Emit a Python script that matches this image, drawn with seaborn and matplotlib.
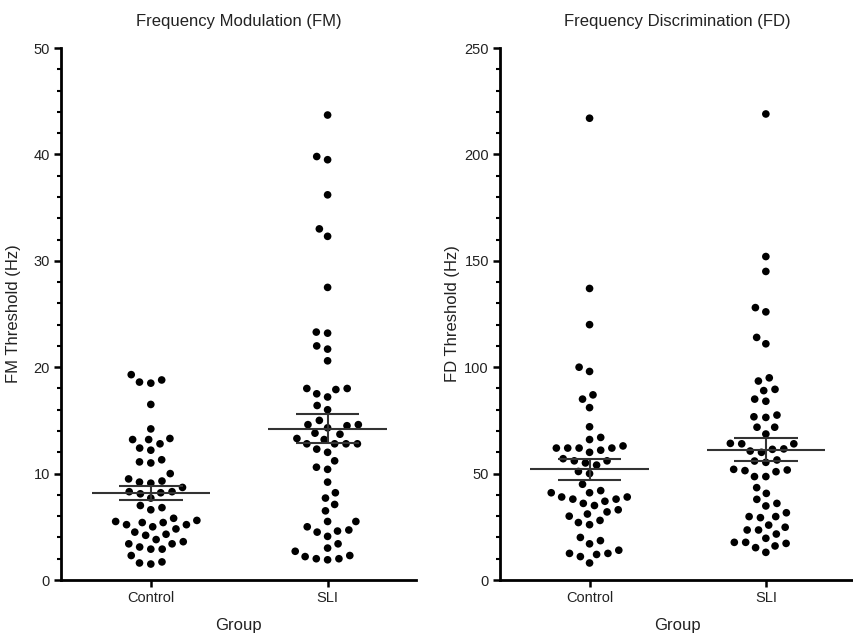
import numpy as np
import pandas as pd
import matplotlib
matplotlib.use("Agg")
import matplotlib.pyplot as plt
from matplotlib.ticker import MultipleLocator
import seaborn as sns

# 数据
groups = ["Control", "SLI"]

fm_control = [19.3, 18.6, 18.5, 18.8, 16.5, 14.2,
              13.2, 12.8, 13.3, 13.2, 12.2, 12.4, 11.1, 11.0, 11.3, 10.0,
              9.3, 9.1, 9.2, 9.5, 8.7, 8.3, 8.1, 7.7, 8.2, 8.3,
              7.0, 6.6, 6.8,
              5.6, 5.5, 5.4, 5.4, 5.8, 5.2, 5.0, 4.5, 4.2, 4.3, 4.8, 5.2,
              3.6, 3.4, 2.9, 2.9, 3.1, 3.4, 3.8, 2.3, 1.7, 1.5, 1.6]
fm_sli = [43.7, 39.5, 39.8, 36.2, 32.3, 33.0, 27.5,
          23.2, 23.3, 22.0, 21.7, 20.6,
          18.0, 17.5, 17.2, 17.9, 18.0, 16.4, 16.0, 15.0,
          14.3, 14.6, 14.5, 14.6, 13.7, 13.8, 13.2, 13.3,
          12.8, 12.8, 12.8, 12.8, 12.3, 12.0, 11.2, 10.4, 10.6,
          9.2, 8.2, 7.7, 7.1, 6.5, 5.5, 5.5,
          5.0, 4.6, 4.1, 4.5, 4.7, 3.4, 3.0,
          2.3, 2.0, 1.9, 2.0, 2.2, 2.7]
fd_control = [217, 137, 120, 100, 98, 87, 85, 81, 72, 67, 66,
              62, 61, 63, 62, 60, 62, 62, 57, 56, 56, 54, 55, 50, 51, 45,
              41, 39, 37, 38, 35, 38, 39, 41, 42, 36,
              30, 27, 32, 26, 33, 28, 31, 17, 20, 18.5,
              12.5, 12, 14, 11, 12.5, 8]
fd_sli = [219, 152, 145, 128, 126, 111, 114, 93.5, 95, 89, 89.6, 85, 84,
          77.5, 76.7, 76.4, 71.8, 71.8, 68.6,
          64, 61.6, 60, 60.6, 61.4, 64, 64.2, 56.4, 55.3, 55.9,
          51.7, 50.9, 48.6, 48.6, 51.4, 52, 43.4, 40.7, 37.9, 34.8, 36,
          29.8, 29.3, 31.6, 29.8, 23.5, 21.6, 24.8, 25.8, 23.5,
          17.7, 16, 13, 15.2, 19.6, 17.2, 17.7]

sns.set_style("ticks")
plt.rcParams['font.family'] = ['Liberation Sans', 'DejaVu Sans']

TEXT = "#222222"
LINE = "#333333"


def make_df(control, sli):
    return pd.DataFrame({
        "group": ["Control"] * len(control) + ["SLI"] * len(sli),
        "value": list(control) + list(sli),
    })


def draw_panel(ax, df, title, ylabel, ymax, major, minor, ylabelpad):
    # 点大小小于间距：用透明边框增加蜂群间隔
    sns.swarmplot(data=df, x="group", y="value", order=groups, ax=ax,
                  color="black", size=5.5, edgecolor="none", linewidth=2.3)

    # 均值 ± 标准误
    for i, g in enumerate(groups):
        vals = df.loc[df["group"] == g, "value"].to_numpy()
        m = vals.mean()
        se = vals.std(ddof=1) / np.sqrt(len(vals))
        ax.hlines(m, i - 0.335, i + 0.335, color=LINE, lw=1.5, zorder=5)
        ax.hlines([m - se, m + se], i - 0.18, i + 0.18, color=LINE, lw=1.5, zorder=5)
        ax.vlines(i, m - se, m + se, color=LINE, lw=1.5, zorder=5)

    ax.set_xlim(-0.508, 1.5)
    ax.set_ylim(0, ymax)
    ax.yaxis.set_major_locator(MultipleLocator(major))
    ax.yaxis.set_minor_locator(MultipleLocator(minor))
    sns.despine(ax=ax)
    for s in ("left", "bottom"):
        ax.spines[s].set_linewidth(2.0)
        ax.spines[s].set_color("black")
    ax.tick_params(axis="both", which="major", length=5, width=1.8,
                   labelsize=10.5, labelcolor=TEXT, color="black", pad=3)
    ax.tick_params(axis="y", which="minor", length=3, width=1.5, color="black")
    ax.set_title(title, fontsize=12, color=TEXT, pad=16)
    ax.set_xlabel("Group", fontsize=12, color=TEXT, labelpad=9)
    ax.set_ylabel(ylabel, fontsize=12, color=TEXT, labelpad=ylabelpad)


fig = plt.figure(figsize=(8.54, 6.36), dpi=100)
ax1 = fig.add_axes([61 / 854, 56 / 636, 355 / 854, 532 / 636])
ax2 = fig.add_axes([500 / 854, 56 / 636, 354 / 854, 532 / 636])

draw_panel(ax1, make_df(fm_control, fm_sli), "Frequency Modulation (FM)",
           "FM Threshold (Hz)", 50, 10, 2, 9)
draw_panel(ax2, make_df(fd_control, fd_sli), "Frequency Discrimination (FD)",
           "FD Threshold (Hz)", 250, 50, 10, 3)

fig.savefig("out.png", dpi=100)
